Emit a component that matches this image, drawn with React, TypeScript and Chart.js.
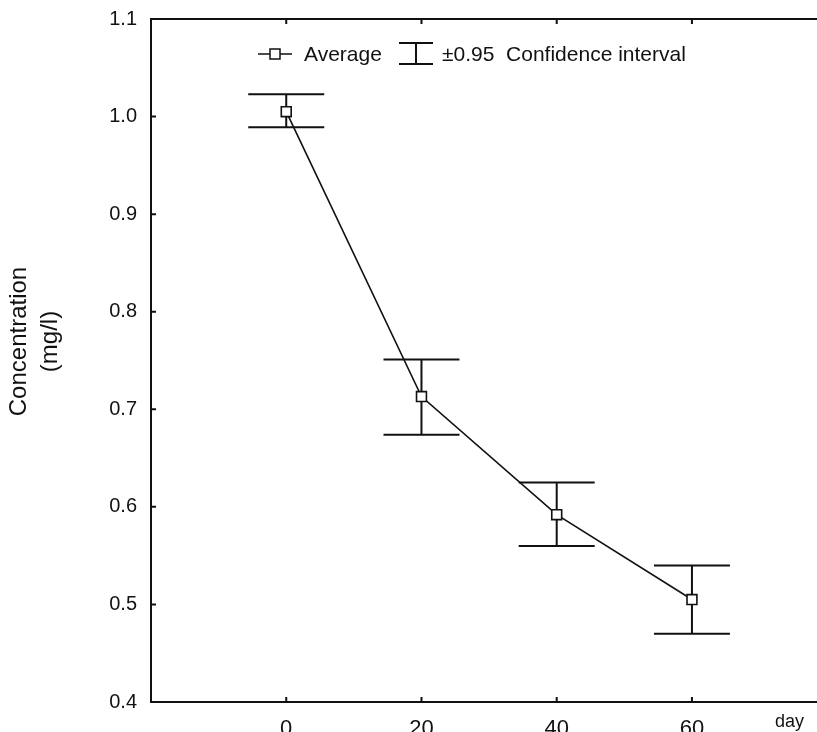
import React, { useEffect, useRef } from "react";
import { Chart, registerables } from "chart.js";

Chart.register(...registerables);

const days = [0, 20, 40, 60];
const average = [1.005, 0.713, 0.592, 0.505];
const ciUpper = [1.023, 0.751, 0.625, 0.540];
const ciLower = [0.989, 0.674, 0.560, 0.470];
const xTicks = [0, 20, 40, 60];
const yTicks = [0.4, 0.5, 0.6, 0.7, 0.8, 0.9, 1.0, 1.1];
const yTitleLines = ["Concentration", "(mg/l)"];
const xUnitLabel = "day";
const legendAverage = "Average";
const legendCI = "±0.95  Confidence interval";

const INK = "#111";
const FONT = '"Liberation Sans", Arial, sans-serif';

const framePlugin = {
  id: "frame",
  beforeDatasetsDraw(chart: any) {
    const { ctx, scales } = chart;
    const x = scales.x, y = scales.y;
    ctx.save();
    ctx.strokeStyle = INK;
    ctx.lineWidth = 2;
    for (let i = 0; i < days.length; i++) {
      const px = x.getPixelForValue(days[i]);
      const yu = y.getPixelForValue(ciUpper[i]);
      const yl = y.getPixelForValue(ciLower[i]);
      ctx.beginPath();
      ctx.moveTo(px, yu);
      ctx.lineTo(px, yl);
      ctx.moveTo(px - 38, yu);
      ctx.lineTo(px + 38, yu);
      ctx.moveTo(px - 38, yl);
      ctx.lineTo(px + 38, yl);
      ctx.stroke();
    }
    ctx.restore();
  },
  afterDraw(chart: any) {
    const { ctx, chartArea, scales } = chart;
    const { left, top, right, bottom } = chartArea;
    const x = scales.x, y = scales.y;
    ctx.save();
    ctx.strokeStyle = INK;
    ctx.lineWidth = 2;
    ctx.strokeRect(left, top, right - left, bottom - top);
    ctx.beginPath();
    for (const v of xTicks) {
      const px = x.getPixelForValue(v);
      ctx.moveTo(px, bottom);
      ctx.lineTo(px, bottom - 5);
      ctx.moveTo(px, top);
      ctx.lineTo(px, top + 5);
    }
    for (const v of yTicks) {
      const py = y.getPixelForValue(v);
      ctx.moveTo(left, py);
      ctx.lineTo(left + 5, py);
    }
    ctx.stroke();

    // y title
    ctx.fillStyle = INK;
    ctx.font = "24px " + FONT;
    ctx.textAlign = "center";
    ctx.textBaseline = "middle";
    const cy = (top + bottom) / 2 - 19;
    ctx.save();
    ctx.translate(19, cy);
    ctx.rotate(-Math.PI / 2);
    ctx.fillText(yTitleLines[0], 0, 0);
    ctx.restore();
    ctx.save();
    ctx.translate(50, cy);
    ctx.rotate(-Math.PI / 2);
    ctx.fillText(yTitleLines[1], 0, 0);
    ctx.restore();

    // unit label
    ctx.font = "18px " + FONT;
    ctx.textAlign = "left";
    ctx.textBaseline = "alphabetic";
    ctx.fillText(xUnitLabel, left + 624, bottom + 25);

    // legend
    const ly = top + 35;
    ctx.lineWidth = 1.5;
    ctx.beginPath();
    ctx.moveTo(left + 107, ly);
    ctx.lineTo(left + 141, ly);
    ctx.stroke();
    ctx.fillStyle = "#fff";
    ctx.fillRect(left + 119, ly - 5, 10, 10);
    ctx.strokeRect(left + 119, ly - 5, 10, 10);
    ctx.lineWidth = 2;
    ctx.beginPath();
    const ex = left + 265;
    ctx.moveTo(ex, ly - 11);
    ctx.lineTo(ex, ly + 10);
    ctx.moveTo(ex - 17, ly - 11);
    ctx.lineTo(ex + 17, ly - 11);
    ctx.moveTo(ex - 17, ly + 10);
    ctx.lineTo(ex + 17, ly + 10);
    ctx.stroke();
    ctx.fillStyle = INK;
    ctx.font = "21px " + FONT;
    ctx.textBaseline = "middle";
    ctx.fillText(legendAverage, left + 153, ly + 1);
    ctx.fillText(legendCI, left + 291, ly + 1);
    ctx.restore();
  },
};

export default function App() {
  const ref = useRef<HTMLCanvasElement | null>(null);
  useEffect(() => {
    if (!ref.current) return;
    const chart = new Chart(ref.current, {
      type: "line",
      data: {
        datasets: [
          {
            label: legendAverage,
            data: days.map((d, i) => ({ x: d, y: average[i] })),
            borderColor: INK,
            borderWidth: 1.6,
            pointStyle: "rect",
            pointRadius: 7,
            pointBackgroundColor: "#fff",
            pointBorderColor: INK,
            pointBorderWidth: 1.6,
            tension: 0,
          },
        ],
      },
      options: {
        responsive: false,
        animation: false,
        devicePixelRatio: 1,
        layout: { padding: { top: 19, right: 9, left: 0, bottom: 0 } },
        plugins: { legend: { display: false }, tooltip: { enabled: false } },
        scales: {
          x: {
            type: "linear",
            min: -20,
            max: 85,
            grid: { display: false, drawTicks: false },
            border: { display: false },
            afterBuildTicks: (s: any) => {
              s.ticks = xTicks.map((v) => ({ value: v }));
            },
            afterFit: (s: any) => {
              s.height = 58;
              s.paddingLeft = 0;
              s.paddingRight = 0;
            },
            ticks: {
              color: INK,
              padding: 14,
              font: { family: FONT, size: 22 },
              maxRotation: 0,
              autoSkip: false,
            },
          },
          y: {
            type: "linear",
            min: 0.4,
            max: 1.1,
            grid: { display: false, drawTicks: false },
            border: { display: false },
            afterBuildTicks: (s: any) => {
              s.ticks = yTicks.map((v) => ({ value: v }));
            },
            afterFit: (s: any) => {
              s.width = 151;
              s.paddingTop = 0;
              s.paddingBottom = 0;
            },
            ticks: {
              color: INK,
              padding: 14,
              font: { family: FONT, size: 20 },
              callback: (v: any) => Number(v).toFixed(1),
            },
          },
        },
      },
      plugins: [framePlugin],
    } as any);
    return () => chart.destroy();
  }, []);
  return (
    <div
      style={{
        position: "fixed",
        left: 0,
        top: 0,
        width: 817,
        height: 732,
        overflow: "hidden",
        background: "#fff",
      }}
    >
      <canvas ref={ref} width={870} height={760} style={{ display: "block" }} />
    </div>
  );
}
